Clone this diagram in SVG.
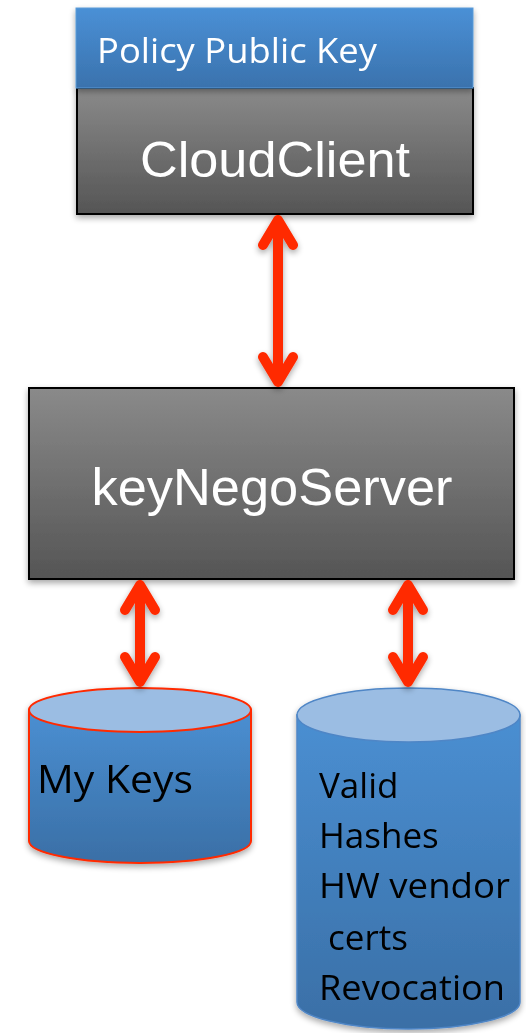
<svg xmlns="http://www.w3.org/2000/svg" width="526" height="1033" viewBox="0 0 526 1033">
  <defs>
    <linearGradient id="gray" x1="0" y1="0" x2="0" y2="1">
      <stop offset="0" stop-color="#8a8a8a"/>
      <stop offset="1" stop-color="#555555"/>
    </linearGradient>
    <linearGradient id="banner" x1="0" y1="0" x2="0" y2="1">
      <stop offset="0" stop-color="#4a90d6"/>
      <stop offset="1" stop-color="#3a72ad"/>
    </linearGradient>
    <linearGradient id="drum" x1="0" y1="0" x2="0" y2="1">
      <stop offset="0" stop-color="#4a8fd2"/>
      <stop offset="1" stop-color="#3a6fa6"/>
    </linearGradient>
    <filter id="shadow" x="-10%" y="-10%" width="120%" height="125%">
      <feGaussianBlur in="SourceAlpha" stdDeviation="3"/>
      <feOffset dx="0" dy="3" result="b"/>
      <feComponentTransfer><feFuncA type="linear" slope="0.35"/></feComponentTransfer>
      <feMerge><feMergeNode/><feMergeNode in="SourceGraphic"/></feMerge>
    </filter>
    <style>
      .box { fill: url(#gray); stroke: #000; stroke-width: 2; }
      .white { fill: #fff; font-family: "Liberation Sans", Arial, sans-serif; }
      .calibri { font-family: "Open Sans", "Noto Sans", sans-serif; }
      .link { fill: none; stroke: #ff2a00; stroke-width: 10; stroke-linecap: round; stroke-linejoin: round; }
      .dark { fill: #000; }
    </style>
  </defs>

  <!-- client box with its key banner -->
  <g id="cloudclient" filter="url(#shadow)">
    <rect class="box" x="77" y="88" width="396" height="126"/>
    <text class="white" x="275" y="177" font-size="50" text-anchor="middle" textLength="270" lengthAdjust="spacingAndGlyphs">CloudClient</text>
  </g>
  <g id="policy-key" filter="url(#shadow)">
    <rect x="76" y="8" width="397" height="80" fill="url(#banner)" stroke="#5b9bd8" stroke-width="1"/>
    <text class="white calibri" x="97" y="63" font-size="35" textLength="280" lengthAdjust="spacingAndGlyphs">Policy Public Key</text>
  </g>

  <!-- negotiation server -->
  <g id="keynegoserver" filter="url(#shadow)">
    <rect class="box" x="29" y="388" width="485" height="191"/>
    <text class="white" x="272" y="505" font-size="52" text-anchor="middle" textLength="361" lengthAdjust="spacingAndGlyphs">keyNegoServer</text>
  </g>

  <!-- key store -->
  <g id="mykeys" filter="url(#shadow)">
    <path d="M29 710 L29 841 A111 22 0 0 0 251 841 L251 710 Z" fill="url(#drum)" stroke="#ff2a00" stroke-width="2"/>
    <ellipse cx="140" cy="710" rx="111" ry="22" fill="#9bbde3" stroke="#ff2a00" stroke-width="2"/>
    <text class="dark calibri" x="37" y="793" font-size="38" textLength="156" lengthAdjust="spacingAndGlyphs">My Keys</text>
  </g>

  <!-- trust store -->
  <g id="truststore" filter="url(#shadow)">
    <path d="M297 715 L297 1002 A111.5 27 0 0 0 520 1002 L520 715 Z" fill="url(#drum)" stroke="#4f86c6" stroke-width="1.5"/>
    <ellipse cx="408.5" cy="715" rx="111.5" ry="27" fill="#9bbde3" stroke="#4f86c6" stroke-width="1.5"/>
    <g class="dark calibri" font-size="35">
      <text x="319" y="798">Valid</text>
      <text x="319" y="848">Hashes</text>
      <text x="319" y="898" textLength="191" lengthAdjust="spacingAndGlyphs">HW vendor</text>
      <text x="319" y="950" xml:space="preserve"> certs</text>
      <text x="319" y="1000" textLength="186" lengthAdjust="spacingAndGlyphs">Revocation</text>
    </g>
  </g>

  <!-- bidirectional links -->
  <g id="connectors" filter="url(#shadow)">
    <path class="link" d="M278 220 L278 382 M263 245 L278 220 L293 245 M263 357 L278 382 L293 357"/>
    <path class="link" d="M140 585 L140 682 M125 610 L140 585 L155 610 M125 657 L140 682 L155 657"/>
    <path class="link" d="M408 585 L408 682 M393 610 L408 585 L423 610 M393 657 L408 682 L423 657"/>
  </g>
</svg>
